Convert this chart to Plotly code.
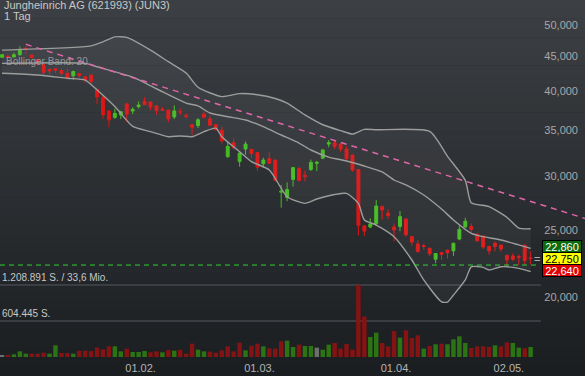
import math
import plotly.graph_objects as go

# ---------------- data ----------------
dec21 = [29, 30]
jan22 = [3, 4, 5, 6, 7, 10, 11, 12, 13, 14, 17, 18, 19, 20, 21, 24, 25, 26, 27, 28, 31]
feb22 = [1, 2, 3, 4, 7, 8, 9, 10, 11, 14, 15, 16, 17, 18, 21, 22, 23, 24, 25, 28]
mar22 = [1, 2, 3, 4, 7, 8, 9, 10, 11, 14, 15, 16, 17, 18, 21, 22, 23, 24, 25, 28, 29, 30, 31]
apr22 = [1, 4, 5, 6, 7, 8, 11, 12, 13, 14, 19, 20, 21, 22, 25, 26, 27, 28, 29]
may22 = [2, 3, 4, 5, 6]

dates = ([f"2021-12-{d:02d}" for d in dec21] + [f"2022-01-{d:02d}" for d in jan22] +
         [f"2022-02-{d:02d}" for d in feb22] + [f"2022-03-{d:02d}" for d in mar22] +
         [f"2022-04-{d:02d}" for d in apr22] + [f"2022-05-{d:02d}" for d in may22])

opens = [44.80, 45.00, 44.85, 45.20, 46.20, 45.15, 44.40, 43.70, 43.00, 43.10,
         42.85, 42.45, 42.10, 42.40, 41.95, 42.20, 40.20, 39.20, 37.40, 36.60,
         36.90, 38.30, 37.40, 37.95, 38.60, 38.55, 38.05, 37.60, 37.50, 36.65,
         37.30, 36.80, 35.70, 35.60, 37.00, 36.40, 35.70, 35.05, 32.05, 33.60,
         31.55, 32.90, 32.85, 32.50, 31.30, 31.85, 31.70, 28.45, 27.95, 29.70,
         30.80, 30.10, 30.70, 31.35, 31.90, 33.45, 33.60, 33.45, 32.90, 32.25,
         30.70, 25.40, 25.30, 25.60, 27.10, 26.50, 25.30, 25.35, 26.00, 24.50,
         23.90, 23.75, 23.55, 22.70, 23.20, 23.40, 23.35, 24.30, 25.30, 25.35,
         24.70, 24.55, 23.70, 23.95, 23.80, 23.00, 22.95, 22.90, 23.80, 22.80]
highs = [45.30, 45.10, 45.50, 46.50, 46.50, 45.20, 44.50, 43.80, 43.20, 43.20,
         43.15, 43.15, 42.85, 42.45, 42.00, 42.25, 40.30, 39.30, 37.50, 37.70,
         37.40, 38.30, 37.85, 38.60, 39.15, 38.60, 38.10, 37.90, 37.55, 38.10,
         37.70, 37.10, 35.70, 36.50, 37.30, 36.80, 35.75, 35.50, 33.75, 34.10,
         32.50, 33.75, 32.90, 32.55, 31.95, 32.55, 31.75, 29.15, 29.40, 30.95,
         30.95, 30.60, 31.75, 31.60, 32.85, 33.90, 33.90, 33.50, 33.20, 32.30,
         30.75, 25.45, 26.05, 27.70, 27.20, 26.85, 25.60, 26.70, 26.05, 24.55,
         24.20, 23.90, 23.60, 23.15, 23.25, 23.45, 24.00, 25.45, 26.10, 25.60,
         24.75, 24.60, 23.75, 24.10, 23.85, 23.05, 23.15, 23.05, 23.85, 23.30]
lows = [44.70, 44.80, 44.80, 45.05, 45.25, 44.70, 43.70, 42.20, 42.30, 42.50,
        42.10, 41.65, 41.50, 41.80, 41.10, 40.95, 38.25, 36.40, 35.40, 36.40,
        36.40, 36.00, 37.00, 37.70, 38.15, 37.50, 36.90, 37.40, 36.00, 36.40,
        36.90, 36.50, 34.50, 35.30, 36.55, 35.60, 35.00, 33.50, 31.95, 32.80,
        31.00, 32.25, 31.85, 30.55, 30.90, 31.30, 29.50, 27.00, 27.60, 29.00,
        29.50, 29.50, 30.55, 30.55, 31.80, 33.10, 32.90, 32.60, 31.70, 30.50,
        24.60, 24.55, 25.20, 25.40, 25.95, 26.00, 24.10, 24.95, 24.50, 23.75,
        23.20, 23.45, 22.95, 22.40, 22.65, 22.75, 22.95, 24.20, 25.25, 24.80,
        24.10, 23.50, 23.05, 23.30, 23.30, 22.20, 22.55, 22.25, 22.30, 22.30]
closes = [45.20, 44.85, 45.20, 45.95, 46.05, 44.75, 43.80, 42.60, 42.80, 42.90,
          42.45, 41.80, 42.70, 42.15, 41.50, 41.30, 39.20, 36.90, 36.30, 37.10,
          37.30, 37.00, 37.60, 38.15, 38.20, 37.90, 37.45, 37.50, 36.40, 37.40,
          37.25, 36.70, 35.40, 36.30, 36.60, 35.65, 35.10, 33.80, 33.20, 33.05,
          32.45, 33.45, 32.40, 30.95, 31.70, 31.35, 29.60, 28.55, 28.70, 30.90,
          29.60, 30.00, 31.45, 31.45, 32.80, 33.60, 33.20, 32.90, 31.85, 30.65,
          25.45, 24.95, 25.55, 27.15, 26.80, 26.30, 25.05, 26.20, 24.65, 24.05,
          23.30, 23.70, 23.12, 23.14, 23.08, 23.20, 23.95, 25.10, 25.80, 25.10,
          24.15, 23.65, 23.35, 23.70, 23.50, 22.65, 22.70, 22.85, 22.60, 22.75]
volumes = [17000, 28000, 45000, 95000, 56000, 56000, 56000, 73000, 56000, 196000,
           67000, 67000, 56000, 106000, 106000, 100000, 157000, 129000, 179000, 179000,
           95000, 140000, 84000, 84000, 101000, 78000, 95000, 78000, 118000, 106000,
           120000, 56000, 224000, 123000, 95000, 90000, 73000, 112000, 179000, 95000,
           241000, 112000, 190000, 224000, 179000, 145000, 140000, 263000, 274000, 168000,
           207000, 185000, 185000, 157000, 123000, 207000, 235000, 140000, 218000, 123000,
           1208891, 678000, 336000, 408000, 235000, 179000, 437000, 325000, 448000, 319000,
           364000, 140000, 185000, 213000, 224000, 213000, 297000, 347000, 235000, 151000,
           179000, 179000, 168000, 196000, 179000, 246000, 235000, 157000, 146000, 168000]

# Bollinger band (20) readings
upper_dates = ["2021-12-29", "2022-01-20", "2022-01-24", "2022-01-26", "2022-01-28", "2022-02-03",
               "2022-02-08", "2022-02-11", "2022-02-15", "2022-02-21", "2022-02-24", "2022-03-01",
               "2022-03-04", "2022-03-08", "2022-03-11", "2022-03-16", "2022-03-21", "2022-03-23",
               "2022-03-25", "2022-03-29", "2022-04-11", "2022-04-14", "2022-04-21", "2022-04-22",
               "2022-04-27", "2022-05-02", "2022-05-04", "2022-05-06"]
upper_vals = [45.90, 46.55, 47.20, 48.00, 47.90, 45.90,
              44.15, 42.50, 40.50, 39.25, 39.65, 39.50,
              39.00, 38.40, 36.90, 35.70, 35.00, 34.60,
              35.15, 35.10, 34.90, 32.10, 29.60, 27.45,
              27.10, 26.15, 25.20, 25.15]
mid_dates = ["2021-12-29", "2022-01-19", "2022-01-21", "2022-01-31", "2022-02-04", "2022-02-11",
             "2022-02-15", "2022-02-17", "2022-02-22", "2022-02-25", "2022-03-02", "2022-03-07",
             "2022-03-10", "2022-03-14", "2022-03-17", "2022-03-22", "2022-03-25", "2022-03-30",
             "2022-04-01", "2022-04-05", "2022-04-08", "2022-04-13", "2022-04-19", "2022-04-22",
             "2022-04-26", "2022-04-29", "2022-05-04", "2022-05-06"]
mid_vals = [43.90, 43.90, 43.40, 41.90, 40.30, 38.40,
            38.03, 37.14, 36.68, 36.28, 35.47, 34.49,
            33.57, 32.79, 32.02, 31.60, 31.07, 30.45,
            29.64, 29.15, 28.18, 26.88, 25.91, 24.77,
            24.49, 24.22, 23.82, 23.55]
lower_dates = ["2021-12-29", "2022-01-07", "2022-01-14", "2022-01-19", "2022-01-21", "2022-01-26",
               "2022-01-31", "2022-02-03", "2022-02-08", "2022-02-10", "2022-02-14", "2022-02-16",
               "2022-02-18", "2022-02-21", "2022-02-24", "2022-02-28", "2022-03-03", "2022-03-08",
               "2022-03-11", "2022-03-15", "2022-03-18", "2022-03-22", "2022-03-24", "2022-03-25",
               "2022-03-29", "2022-04-01", "2022-04-06", "2022-04-08", "2022-04-13", "2022-04-14",
               "2022-04-19", "2022-04-21", "2022-04-22", "2022-04-26", "2022-04-27", "2022-04-29",
               "2022-05-04", "2022-05-06"]
lower_vals = [42.45, 42.20, 41.75, 41.50, 40.13, 37.95,
              35.50, 34.88, 34.29, 34.38, 34.29, 34.88,
              35.29, 34.29, 32.60, 31.53, 30.66, 28.02,
              27.40, 27.80, 28.23, 28.33, 27.40, 25.91,
              25.47, 24.49, 22.64, 21.17, 19.67, 19.65,
              20.12, 21.17, 22.13, 22.09, 21.89, 22.13,
              22.01, 21.77]

# trend line (two anchor readings)
trend_dates = ["2022-01-05", "2022-05-06"]
trend_vals = [46.80, 27.57]

marker_level = 22.26          # green dashed horizontal
quote_ask, quote_bid = 22.86, 22.64
turnover_text = "33,6 Mio."

tick_dates = ["2022-02-01", "2022-03-01", "2022-04-01", "2022-05-02"]
tick_labels = ["01.02.", "01.03.", "01.04.", "02.05."]
price_ticks = [20, 25, 30, 35, 40, 45, 50]

title_line1 = "Jungheinrich AG (621993) (JUN3)"
title_line2 = "1 Tag"
indicator_label = "Bollinger Band: 20"

# ---------------- figure ----------------
pos = {d: i for i, d in enumerate(dates)}
n = len(dates)
xs = [pos[d] for d in dates]
X_RANGE = [-0.34, 98.15]
Y_RANGE = [1.20866, 1.73509]
V_RANGE = [-50370, 5994000]

def de_num(v, dec=0):
    s = f"{v:,.{dec}f}"
    return s.replace(",", "X").replace(".", ",").replace("X", ".")

# volume colors: by close vs previous close
vcols = []
for i, c in enumerate(closes):
    if i == 0 or abs(c - closes[i - 1]) < 1e-9:
        vcols.append("#6e6e6e")
    elif c > closes[i - 1]:
        vcols.append("#2c7314")
    else:
        vcols.append("#851313")

fig = go.Figure()

fig.add_trace(go.Bar(x=xs, y=volumes, yaxis="y2", marker=dict(color=vcols, line=dict(width=0)),
                     hoverinfo="skip"))

band_col = "#9c9c9c"
fig.add_trace(go.Scatter(x=[pos[d] for d in upper_dates], y=upper_vals, mode="lines",
                         line=dict(color=band_col, width=1.4, shape="spline", smoothing=0.6),
                         hoverinfo="skip"))
fig.add_trace(go.Scatter(x=[pos[d] for d in lower_dates], y=lower_vals, mode="lines",
                         line=dict(color=band_col, width=1.4, shape="spline", smoothing=0.6),
                         fill="tonexty", fillcolor="rgba(255,255,255,0.045)", hoverinfo="skip"))
fig.add_trace(go.Scatter(x=[pos[d] for d in mid_dates], y=mid_vals, mode="lines",
                         line=dict(color=band_col, width=1.4, shape="spline", smoothing=0.6),
                         hoverinfo="skip"))

# trend line extended to right edge
tx0, tx1 = pos[trend_dates[0]], pos[trend_dates[1]]
ly0, ly1 = math.log10(trend_vals[0]), math.log10(trend_vals[1])
slope = (ly1 - ly0) / (tx1 - tx0)
x_end = X_RANGE[1]
fig.add_trace(go.Scatter(x=[tx0, x_end], y=[trend_vals[0], 10 ** (ly0 + slope * (x_end - tx0))],
                         mode="lines", line=dict(color="#e066aa", width=1.5, dash="6px,5px"),
                         hoverinfo="skip"))

fig.add_trace(go.Candlestick(
    x=xs, open=opens, high=highs, low=lows, close=closes,
    increasing=dict(line=dict(color="#44bb22", width=1), fillcolor="#44bb22"),
    decreasing=dict(line=dict(color="#dd1515", width=1), fillcolor="#dd1515"),
    whiskerwidth=0, hoverinfo="skip"))

shapes = []
# background gradient
top = (60, 63, 67)
bot = (27, 30, 33)
N = 40
y_lo, y_hi = -0.045, 1.0
for k in range(N):
    t = k / (N - 1)
    c = tuple(round(bot[j] + (top[j] - bot[j]) * t) for j in range(3))
    shapes.append(dict(type="rect", xref="paper", yref="paper", x0=0, x1=1,
                       y0=y_lo + (y_hi - y_lo) * k / N, y1=y_lo + (y_hi - y_lo) * (k + 1) / N + 0.001,
                       fillcolor=f"rgb{c}", line=dict(width=0), layer="below"))

vmax = max(volumes)
for lv in (vmax, vmax // 2):
    shapes.append(dict(type="line", xref="x", yref="y2", x0=X_RANGE[0], x1=n + 0.7, y0=lv, y1=lv,
                       line=dict(color="#45484c", width=1.5), layer="below"))
shapes.append(dict(type="line", xref="x", yref="y", x0=X_RANGE[0], x1=n - 0.1,
                   y0=marker_level, y1=marker_level,
                   line=dict(color="#2fd42f", width=1, dash="5px,4px"), layer="above"))

annotations = [
    dict(text=title_line1, xref="paper", yref="paper", x=0, y=1, xanchor="left", yanchor="top",
         xshift=2, yshift=3, showarrow=False, font=dict(size=11, color="#c8c8c8")),
    dict(text=title_line2, xref="paper", yref="paper", x=0, y=1, xanchor="left", yanchor="top",
         xshift=2, yshift=-8, showarrow=False, font=dict(size=11, color="#c8c8c8")),
    dict(text=indicator_label, xref="paper", yref="paper", x=0, y=1 - 61 / 360, xanchor="left",
         yanchor="middle", xshift=4, showarrow=False, font=dict(size=10, color="rgba(165,165,165,0.85)")),
    dict(text=f"{de_num(vmax)} S. / {turnover_text}", xref="paper", yref="y2", x=0, y=vmax,
         xanchor="left", yanchor="bottom", xshift=0, showarrow=False,
         font=dict(size=10, color="#c8c8c8")),
    dict(text=f"{de_num(vmax // 2)} S.", xref="paper", yref="y2", x=0, y=vmax // 2,
         xanchor="left", yanchor="bottom", xshift=0, showarrow=False,
         font=dict(size=10, color="#c8c8c8")),
]
last = closes[-1]
tags = [(quote_ask, "#0c6b0c", "white", 12), (last, "#ffff00", "black", 0), (quote_bid, "#e00000", "white", -12)]
for v, bg, fc, ys in tags:
    annotations.append(dict(text=de_num(v, 3), xref="paper", yref="y", x=1, y=math.log10(last),
                            xanchor="right", yanchor="middle", xshift=-3, yshift=ys, showarrow=False,
                            width=38, height=11, align="center",
                            bgcolor=bg, bordercolor="black", borderwidth=1, borderpad=0,
                            font=dict(size=11, color=fc)))
annotations.append(dict(text="=", xref="paper", yref="y", x=1, y=math.log10(last), xanchor="right",
                        yanchor="middle", xshift=-43, showarrow=False, font=dict(size=11, color="#aaaaaa")))

fig.update_layout(
    width=585, height=376, margin=dict(l=0, r=0, t=0, b=16),
    paper_bgcolor="#1c1f22", plot_bgcolor="rgba(0,0,0,0)",
    showlegend=False, bargap=0.25, separators=",.",
    font=dict(family="Arial, Liberation Sans, sans-serif"),
    shapes=shapes, annotations=annotations,
    xaxis=dict(range=X_RANGE, tickvals=[pos[d] for d in tick_dates], ticktext=tick_labels,
               showgrid=False, zeroline=False, showline=False, ticks="", ticklabelshift=2,
               tickfont=dict(size=11, color="#b4b4b4"), rangeslider=dict(visible=False),
               fixedrange=True),
    yaxis=dict(type="log", range=Y_RANGE, side="right", ticklabelposition="inside",
               tickvals=price_ticks, tickformat=".3f", showgrid=False, zeroline=False,
               ticks="", ticklabelstandoff=4,
               tickfont=dict(size=11, color="#a8a8a8")),
    yaxis2=dict(overlaying="y", range=V_RANGE, visible=False),
)

fig.write_html("out.html", config={"displayModeBar": False},
               post_script="document.body.style.margin='0';document.body.style.overflow='hidden';")
